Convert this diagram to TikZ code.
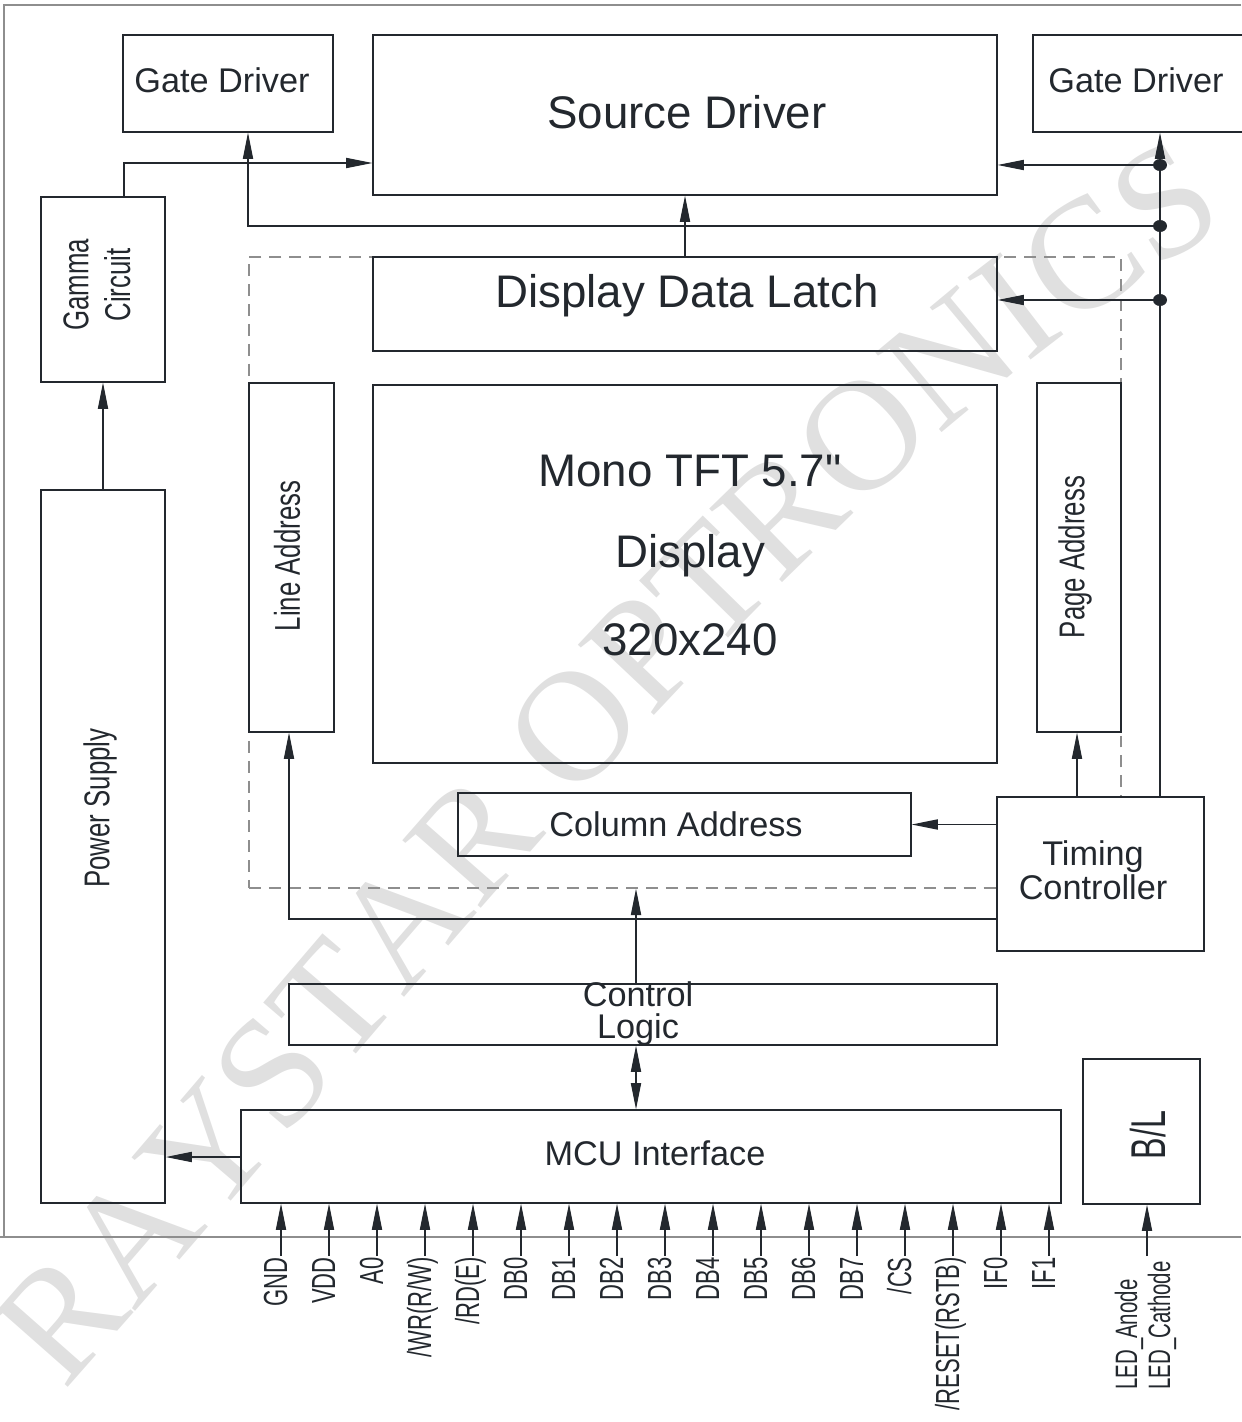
\documentclass[tikz,border=0pt]{standalone}
\usepackage{fontspec}
\setmainfont{Liberation Sans}
\newfontfamily\rawfont{Liberation Sans}
\newfontfamily\condfont[FakeStretch=0.72]{Liberation Sans}
\newfontfamily\pinfont[FakeStretch=0.66]{Liberation Sans}
\newfontfamily\markfont{Liberation Serif}
\usetikzlibrary{arrows.meta,fit,positioning,decorations.text}
\definecolor{linec}{HTML}{23282E}
\definecolor{framec}{HTML}{8E8E8E}
\definecolor{markc}{HTML}{E0E0E0}
\tikzset{
  box/.style={draw=linec, line width=.7pt, inner sep=0pt},
  wire/.style={draw=linec, line width=.7pt},
  sig/.style={wire, -{Triangle[length=15pt,width=5.8pt]}},
  dsig/.style={wire, {Triangle[length=15pt,width=5.8pt]}-{Triangle[length=15pt,width=5.8pt]}},
  lbl/.style={font=\fontsize{19.5}{18.1}\selectfont, text=linec, align=center, inner sep=0pt},
  big/.style={font=\fontsize{26}{26}\selectfont, text=linec, inner sep=0pt},
  side/.style={rotate=90, text=linec, align=center, inner sep=0pt, font=\condfont\fontsize{20.4}{23.8}\selectfont},
  pin/.style={rotate=90, text=linec, inner sep=0pt, anchor=base east, font=\pinfont\fontsize{19}{19}\selectfont},
}
\begin{document}
\begin{tikzpicture}[x=.02cm,y=-.02cm]
        \useasboundingbox (0,0) rectangle (1241,1422);

        % watermark
        \path[decorate, decoration={text along path, text align=center, text color=markc,
          text={|\markfont\fontsize{90}{90}\selectfont|RAYSTAR OPTRONICS}}]
          (30,1430) .. controls (420,1000) and (830,430) .. (1275,200);

        % outer frame
        \draw[framec, line width=.8pt] (1241,5) -- (4,5) -- (4,1237) -- (1241,1237);
        \draw[framec, line width=.8pt] (0,1237) -- (4,1237);

        % blocks
        \node[box, fit={(123,35) (333,132)}] (gdl) {};
        \node[box, fit={(373,35) (997,195)}] (src) {};
        \node[box, fit={(1033,35) (1260,132)}] (gdr) {};
        \node[box, fit={(41,197) (165,382)}] (gam) {};
        \node[box, fit={(41,490) (165,1203)}] (pwr) {};
        \node[box, draw=framec, dash pattern=on 6.8pt off 4.5pt, line width=.8pt, fit={(249,257) (1121,888)}] (dash) {};
        \node[box, fit={(373,257) (997,351)}] (ltc) {};
        \node[box, fit={(249,383) (334,732)}] (lin) {};
        \node[box, fit={(373,385) (997,763)}] (tft) {};
        \node[box, fit={(1037,383) (1121,732)}] (pag) {};
        \node[box, fit={(458,793) (911,856)}] (col) {};
        \node[box, fill=white, fit={(997,797) (1204,951)}] (tim) {};
        \node[box, fit={(289,984) (997,1045)}] (ctl) {};
        \node[box, fit={(241,1110) (1061,1203)}] (mcu) {};
        \node[box, fit={(1083,1059) (1200,1204)}] (bl) {};

        % block texts
        \node[lbl] (gdl-t) at (222,80) {Gate Driver};
        \node[big] (src-t) at (687,112) {Source Driver};
        \node[lbl] (gdr-t) at (1136,80) {Gate Driver};
        \node[big] (ltc-t) at (687,296) {Display Data Latch};
        \node[big] (tft-t1) at (690,471) {Mono TFT 5.7{\rawfont"}};
        \node[big] (tft-t2) at (690,556) {Display};
        \node[big] (tft-t3) at (690,640) {320x240};
        \node[lbl] (col-t) at (676,824) {Column Address};
        \node[lbl] (tim-t) at (1093,870) {Timing\\Controller};
        \node[lbl] (ctl-t) at (638,1014) {Control\\Logic};
        \node[lbl] (mcu-t) at (655,1153) {MCU Interface};
        \node[side] (gam-t) at (97,285) {Gamma\\Circuit};
        \node[side] (pwr-t) at (100,808) {Power Supply};
        \node[side] (lin-t) at (287,556) {Line Address};
        \node[side] (pag-t) at (1075,557) {Page Address};
        \node[side, font=\pinfont\fontsize{27.8}{27.8}\selectfont] (bl-t) at (1148,1135) {B/L};

        % junctions
        \coordinate (d1) at (1160,165);
        \coordinate (d2) at (1160,226);
        \coordinate (d3) at (1160,300);
        \coordinate (gx) at (124,163);
        \coordinate (gl) at (248,226);
        \coordinate (lx) at (685,0);
        \coordinate (px) at (1077,0);
        \coordinate (tl) at (289,919);
        \coordinate (cx) at (636,0);
        \coordinate (mx) at (0,1157);
        \coordinate (gp) at (103,0);

        % connectors
        \draw[sig] (gam.north -| gx) -- (gx) -- (src.west |- gx);
        \draw[sig] (d2) -- (gl) -- (gdl.south -| gl);
        \draw[sig] (tim.north -| d1) -- (gdr.south -| d1);
        \draw[sig] (d1) -- (src.east |- d1);
        \draw[sig] (d3) -- (ltc.east |- d3);
        \draw[sig] (ltc.north -| lx) -- (src.south -| lx);
        \draw[sig] (tim.west |- col.east) -- (col.east);
        \draw[sig] (tim.north -| px) -- (pag.south -| px);
        \draw[sig] (tim.west |- tl) -- (tl) -- (lin.south -| tl);
        \draw[sig] (ctl.north -| cx) -- (dash.south -| cx);
        \draw[dsig] (ctl.south -| cx) -- (mcu.north -| cx);
        \draw[sig] (mcu.west |- mx) -- (pwr.east |- mx);
        \draw[sig] (pwr.north -| gp) -- (gam.south -| gp);
        \foreach \d in {d1,d2,d3}
          \fill[linec] (\d) circle[x radius=7, y radius=6];

        % pins
        \foreach \lab [count=\i from 0] in {GND,VDD,A0,/WR(R/W),/RD(E),DB0,DB1,DB2,DB3,DB4,DB5,DB6,DB7,/CS,/RESET(RSTB),IF0,IF1}{
          \coordinate (p\i) at ({281+48*\i},1256);
          \draw[sig] (p\i) -- (mcu.south -| p\i);
          \node[pin] (pl\i) at ({287+48*\i},1257) {\lab};
        }

        % backlight
        \coordinate (bp) at (1147,1256);
        \draw[sig] (bp) -- (bl.south -| bp);
        \node[pin, anchor=base west, font=\pinfont\fontsize{17.6}{17.6}\selectfont] (led1) at (1137,1390) {LED\_Anode};
        \node[pin, anchor=base west, font=\pinfont\fontsize{17.6}{17.6}\selectfont] (led2) at (1170,1390) {LED\_Cathode};
      \end{tikzpicture}
\end{document}
